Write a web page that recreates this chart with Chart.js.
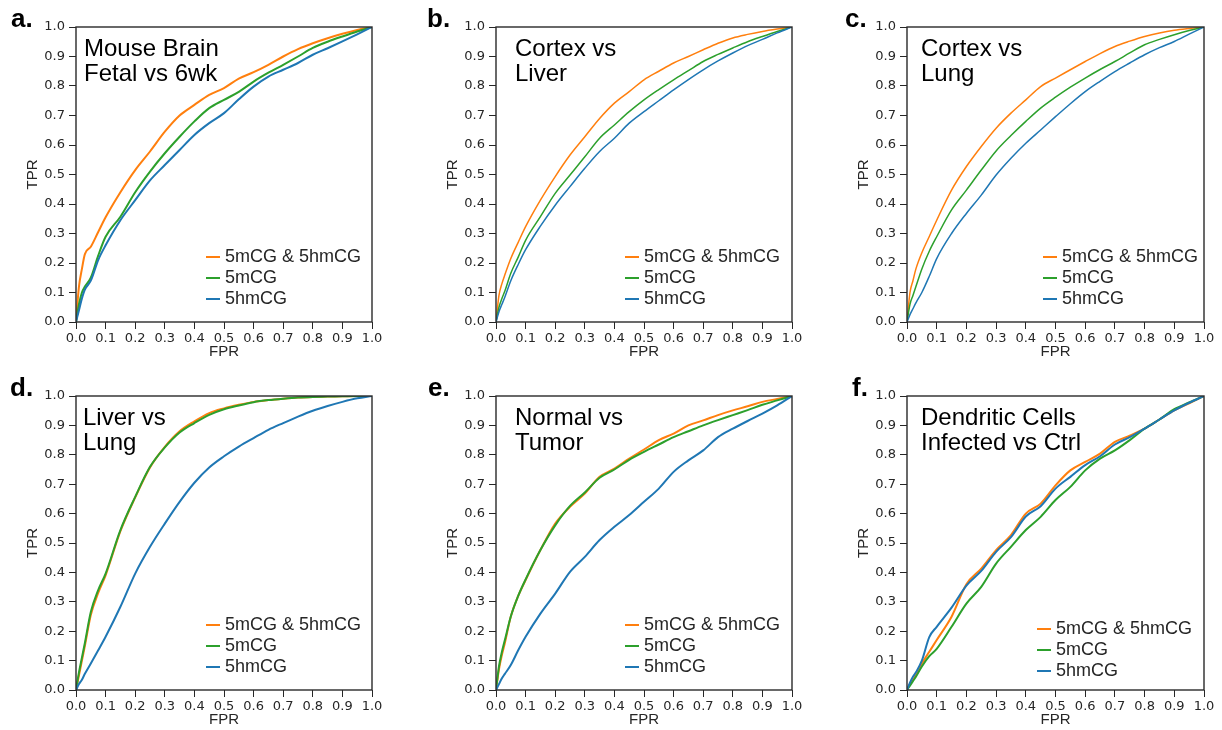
<!DOCTYPE html>
<html>
<head>
<meta charset="utf-8">
<script src="https://cdn.jsdelivr.net/npm/chart.js@4.4.0/dist/chart.umd.min.js"></script>
<style>
  body { margin: 0; background: #fff; width: 1222px; height: 730px; overflow: hidden; position: relative; font-family: "Liberation Sans", Arial, sans-serif; }
  .panel { position: absolute; }
  .letter { position: absolute; font-weight: bold; font-size: 26px; line-height: 26px; color: #000; }
  .title { position: absolute; font-size: 24px; line-height: 25px; color: #000; white-space: nowrap; }
  .legend { position: absolute; font-size: 18px; color: #262626; }
  .legend .row { display: flex; align-items: center; height: 21px; white-space: nowrap; }
  .legend .swatch { width: 14px; margin-right: 5px; border-top: 2px solid; }
</style>
</head>
<body>
<script>
// shared x grid (FPR) and tick labels
const fpr = [0, 0.01, 0.02, 0.03, 0.05, 0.075, 0.1, 0.15, 0.2, 0.25, 0.3, 0.35, 0.4, 0.45, 0.5, 0.55, 0.6, 0.65, 0.7, 0.75, 0.8, 0.85, 0.9, 0.95, 1.0];
const tickValues = [0, 0.1, 0.2, 0.3, 0.4, 0.5, 0.6, 0.7, 0.8, 0.9, 1.0];
const seriesNames = ['5mCG & 5hmCG', '5mCG', '5hmCG'];
const seriesColors = ['#ff7f0e', '#2ca02c', '#1f77b4'];

// a. Mouse Brain Fetal vs 6wk
const brainBoth = [0, 0.12, 0.18, 0.23, 0.255, 0.305, 0.355, 0.44, 0.515, 0.578, 0.645, 0.70, 0.736, 0.77, 0.793, 0.825, 0.847, 0.872, 0.90, 0.925, 0.945, 0.962, 0.977, 0.99, 1];
const brain5mC = [0, 0.06, 0.10, 0.12, 0.15, 0.225, 0.289, 0.357, 0.44, 0.51, 0.572, 0.628, 0.68, 0.725, 0.753, 0.78, 0.815, 0.845, 0.872, 0.90, 0.929, 0.95, 0.968, 0.985, 1];
const brain5hmC = [0, 0.04, 0.08, 0.11, 0.14, 0.21, 0.26, 0.345, 0.413, 0.48, 0.532, 0.583, 0.634, 0.674, 0.708, 0.755, 0.798, 0.832, 0.855, 0.878, 0.906, 0.928, 0.951, 0.975, 1];

// b. Cortex vs Liver
const cortexLiverBoth = [0, 0.09, 0.13, 0.16, 0.215, 0.27, 0.323, 0.413, 0.493, 0.566, 0.628, 0.69, 0.742, 0.781, 0.821, 0.85, 0.878, 0.90, 0.923, 0.945, 0.963, 0.975, 0.985, 0.993, 1];
const cortexLiver5mC = [0, 0.05, 0.08, 0.105, 0.165, 0.22, 0.277, 0.357, 0.436, 0.498, 0.56, 0.623, 0.668, 0.713, 0.753, 0.788, 0.821, 0.852, 0.883, 0.907, 0.929, 0.95, 0.968, 0.985, 1];
const cortexLiver5hmC = [0, 0.035, 0.06, 0.085, 0.14, 0.195, 0.245, 0.325, 0.396, 0.459, 0.521, 0.578, 0.623, 0.674, 0.713, 0.75, 0.787, 0.822, 0.855, 0.885, 0.912, 0.937, 0.958, 0.98, 1];

// c. Cortex vs Lung
const cortexLungBoth = [0, 0.10, 0.14, 0.18, 0.235, 0.29, 0.345, 0.447, 0.527, 0.595, 0.657, 0.708, 0.753, 0.798, 0.827, 0.855, 0.883, 0.91, 0.934, 0.952, 0.968, 0.98, 0.989, 0.995, 1];
const cortexLung5mC = [0, 0.06, 0.09, 0.12, 0.18, 0.24, 0.289, 0.38, 0.447, 0.515, 0.58, 0.632, 0.68, 0.725, 0.762, 0.796, 0.827, 0.856, 0.883, 0.912, 0.94, 0.958, 0.974, 0.988, 1];
const cortexLung5hmC = [0, 0.025, 0.045, 0.065, 0.10, 0.155, 0.215, 0.30, 0.368, 0.43, 0.498, 0.555, 0.606, 0.651, 0.696, 0.74, 0.781, 0.816, 0.849, 0.878, 0.906, 0.93, 0.951, 0.976, 1];

// d. Liver vs Lung
const liverLungBoth = [0, 0.05, 0.10, 0.15, 0.255, 0.33, 0.39, 0.54, 0.655, 0.757, 0.827, 0.88, 0.914, 0.942, 0.958, 0.97, 0.98, 0.986, 0.991, 0.995, 0.997, 0.998, 0.999, 1, 1];
const liverLung5mC = [0, 0.06, 0.11, 0.16, 0.265, 0.34, 0.396, 0.544, 0.657, 0.759, 0.825, 0.876, 0.908, 0.936, 0.955, 0.968, 0.979, 0.986, 0.991, 0.995, 0.997, 0.998, 0.999, 1, 1];
const liverLung5hmC = [0, 0.02, 0.035, 0.055, 0.09, 0.135, 0.181, 0.283, 0.396, 0.487, 0.566, 0.64, 0.705, 0.757, 0.795, 0.828, 0.857, 0.885, 0.908, 0.93, 0.95, 0.966, 0.98, 0.992, 1];

// e. Normal vs Tumor
const tumorBoth = [0, 0.07, 0.12, 0.16, 0.25, 0.32, 0.374, 0.476, 0.566, 0.623, 0.668, 0.725, 0.753, 0.787, 0.818, 0.85, 0.872, 0.90, 0.917, 0.935, 0.951, 0.965, 0.98, 0.99, 1];
const tumor5mC = [0, 0.08, 0.13, 0.17, 0.25, 0.32, 0.376, 0.476, 0.56, 0.626, 0.672, 0.722, 0.75, 0.783, 0.81, 0.835, 0.86, 0.88, 0.90, 0.918, 0.935, 0.952, 0.97, 0.985, 1];
const tumor5hmC = [0, 0.02, 0.04, 0.055, 0.085, 0.135, 0.181, 0.26, 0.328, 0.402, 0.453, 0.51, 0.555, 0.595, 0.64, 0.685, 0.742, 0.781, 0.815, 0.86, 0.889, 0.915, 0.94, 0.968, 1];

// f. Dendritic Cells Infected vs Ctrl
const dendriticBoth = [0, 0.02, 0.035, 0.05, 0.09, 0.13, 0.17, 0.249, 0.36, 0.413, 0.476, 0.527, 0.60, 0.634, 0.696, 0.747, 0.776, 0.804, 0.844, 0.865, 0.889, 0.92, 0.951, 0.975, 1];
const dendritic5mC = [0, 0.015, 0.03, 0.045, 0.08, 0.115, 0.14, 0.215, 0.294, 0.351, 0.43, 0.487, 0.544, 0.589, 0.646, 0.691, 0.747, 0.787, 0.815, 0.85, 0.889, 0.92, 0.955, 0.978, 1];
const dendritic5hmC = [0, 0.025, 0.045, 0.06, 0.10, 0.18, 0.215, 0.28, 0.355, 0.405, 0.47, 0.52, 0.59, 0.625, 0.685, 0.725, 0.765, 0.795, 0.835, 0.86, 0.889, 0.92, 0.951, 0.977, 1];

// layout of the six panels (chart area in page pixels)
const panels = [
  { letter: 'a.', title: ['Mouse Brain', 'Fetal vs 6wk'], series: [brainBoth, brain5mC, brain5hmC],
    left: 76, top: 27, w: 296, h: 295, lw: 2, letterX: 11, titleDx: 8, legendDx: 130, legendDy: 0 },
  { letter: 'b.', title: ['Cortex vs', 'Liver'], series: [cortexLiverBoth, cortexLiver5mC, cortexLiver5hmC],
    left: 496, top: 27, w: 296, h: 295, lw: 1.5, letterX: 427, titleDx: 19, legendDx: 129, legendDy: 0 },
  { letter: 'c.', title: ['Cortex vs', 'Lung'], series: [cortexLungBoth, cortexLung5mC, cortexLung5hmC],
    left: 907, top: 27, w: 297, h: 295, lw: 1.5, letterX: 845, titleDx: 14, legendDx: 136, legendDy: 0 },
  { letter: 'd.', title: ['Liver vs', 'Lung'], series: [liverLungBoth, liverLung5mC, liverLung5hmC],
    left: 76, top: 396, w: 296, h: 294, lw: 2, letterX: 10, titleDx: 7, legendDx: 130, legendDy: 0 },
  { letter: 'e.', title: ['Normal vs', 'Tumor'], series: [tumorBoth, tumor5mC, tumor5hmC],
    left: 496, top: 396, w: 296, h: 294, lw: 2, letterX: 428, titleDx: 19, legendDx: 129, legendDy: 0 },
  { letter: 'f.', title: ['Dendritic Cells', 'Infected vs Ctrl'], series: [dendriticBoth, dendritic5mC, dendritic5hmC],
    left: 907, top: 396, w: 297, h: 294, lw: 2, letterX: 852, titleDx: 14, legendDx: 130, legendDy: 4 }
];

const AXIS_W = 76, PAD_TOP = 27, AXIS_H = 39, PAD_RIGHT = 18;
const INK = '#262626';

// draws the full box around the plot like matplotlib spines
const frame = {
  id: 'frame',
  afterDraw(chart) {
    const { ctx, chartArea: a } = chart;
    ctx.save();
    ctx.strokeStyle = '#2a2a2a';
    ctx.lineWidth = 1.4;
    ctx.strokeRect(a.left, a.top, a.right - a.left, a.bottom - a.top);
    ctx.restore();
  }
};

const tickFont = { family: 'DejaVu Sans', size: 13 };
const labelFont = { family: 'Liberation Sans', size: 15, lineHeight: 1.2 };

panels.forEach(p => {
  const W = AXIS_W + p.w + PAD_RIGHT;
  const H = PAD_TOP + p.h + AXIS_H;

  const wrap = document.createElement('div');
  wrap.className = 'panel';
  wrap.style.left = (p.left - AXIS_W) + 'px';
  wrap.style.top = (p.top - PAD_TOP) + 'px';
  wrap.style.width = W + 'px';
  wrap.style.height = H + 'px';
  const canvas = document.createElement('canvas');
  canvas.width = W;
  canvas.height = H;
  wrap.appendChild(canvas);
  document.body.appendChild(wrap);

  // panel letter
  const letter = document.createElement('div');
  letter.className = 'letter';
  letter.textContent = p.letter;
  letter.style.left = p.letterX + 'px';
  letter.style.top = (p.top - 22) + 'px';
  document.body.appendChild(letter);

  // title inside the plot
  const title = document.createElement('div');
  title.className = 'title';
  title.innerHTML = p.title.join('<br>');
  title.style.left = (p.left + p.titleDx) + 'px';
  title.style.top = (p.top + 8) + 'px';
  document.body.appendChild(title);

  // legend inside the plot, lower right
  const legend = document.createElement('div');
  legend.className = 'legend';
  legend.style.left = (p.left + p.legendDx) + 'px';
  legend.style.top = (p.top + p.h - 76 + p.legendDy) + 'px';
  seriesNames.forEach((name, i) => {
    const row = document.createElement('div');
    row.className = 'row';
    const sw = document.createElement('span');
    sw.className = 'swatch';
    sw.style.borderTopColor = seriesColors[i];
    const txt = document.createElement('span');
    txt.textContent = name;
    row.appendChild(sw);
    row.appendChild(txt);
    legend.appendChild(row);
  });
  document.body.appendChild(legend);

  const datasets = p.series.map((vals, i) => ({
    label: seriesNames[i],
    data: vals.map((v, k) => ({ x: fpr[k], y: v })),
    borderColor: seriesColors[i],
    backgroundColor: seriesColors[i],
    borderWidth: p.lw,
    pointRadius: 0,
    fill: false,
    cubicInterpolationMode: 'monotone',
    order: 3 - i
  }));

  new Chart(canvas, {
    type: 'line',
    data: { datasets },
    options: {
      responsive: false,
      animation: false,
      devicePixelRatio: 1,
      layout: { padding: { left: 0, top: PAD_TOP, right: PAD_RIGHT, bottom: 0 } },
      plugins: { legend: { display: false }, tooltip: { enabled: false } },
      scales: {
        x: {
          type: 'linear', min: 0, max: 1,
          afterBuildTicks: s => { s.ticks = tickValues.map(v => ({ value: v })); },
          afterFit: s => { s.height = AXIS_H; s.paddingLeft = 0; s.paddingRight = 0; },
          ticks: { callback: v => v.toFixed(1), font: tickFont, color: INK, padding: 2, maxRotation: 0, autoSkip: false },
          grid: { drawOnChartArea: false, tickLength: 7, color: INK, lineWidth: 1 },
          border: { display: false },
          title: { display: true, text: 'FPR', font: labelFont, color: INK, padding: { top: 0, bottom: 0 } }
        },
        y: {
          type: 'linear', min: 0, max: 1,
          afterBuildTicks: s => { s.ticks = tickValues.map(v => ({ value: v })); },
          afterFit: s => { s.width = AXIS_W; s.paddingTop = 0; s.paddingBottom = 0; },
          ticks: { callback: v => v.toFixed(1), font: tickFont, color: INK, padding: 4, autoSkip: false },
          grid: { drawOnChartArea: false, tickLength: 7, color: INK, lineWidth: 1 },
          border: { display: false },
          title: { display: true, text: 'TPR', font: labelFont, color: INK, padding: { top: 24, bottom: 0 } }
        }
      }
    },
    plugins: [frame]
  });
});
</script>
</body>
</html>
